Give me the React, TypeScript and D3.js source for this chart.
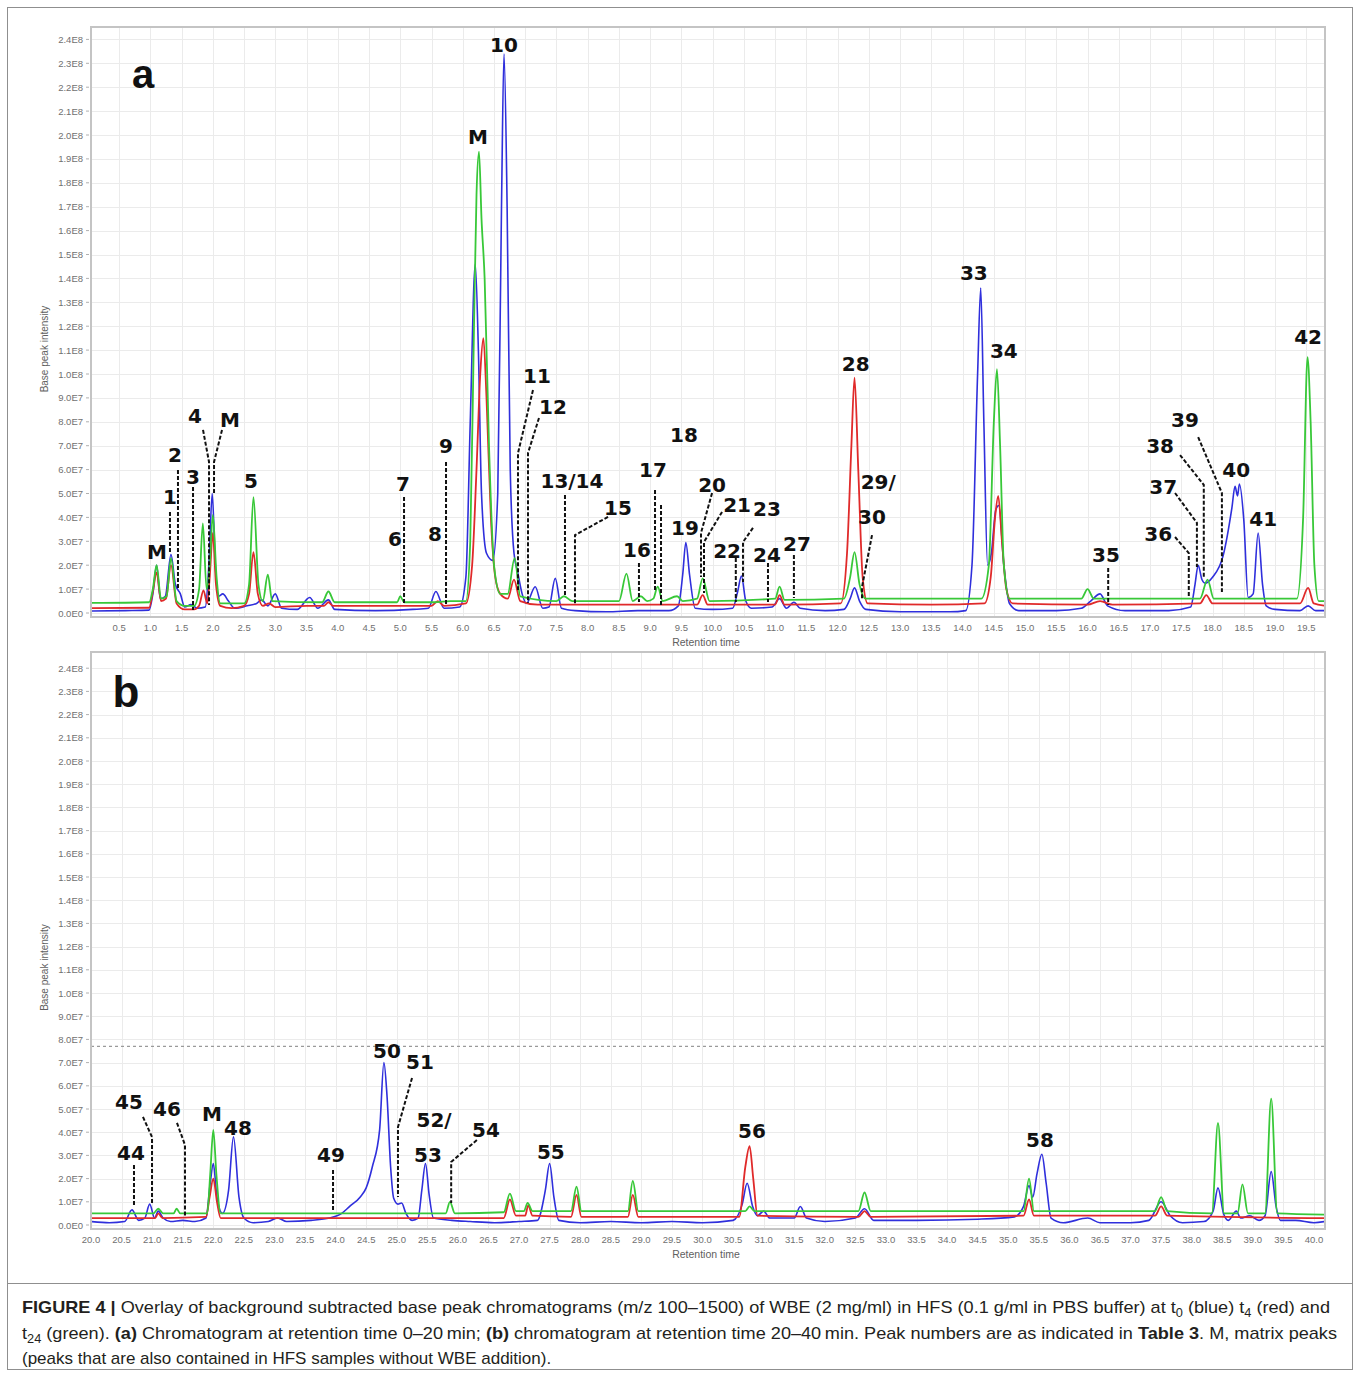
import React, { useEffect, useRef } from 'react';
import * as d3 from 'd3';

type Pt = [number, number];
type Note = { text: string; at: Pt; lead?: Pt[] };

// intensities are in units of 1E7, times in minutes

// ---- panel a (0-20 min) ----
const blueA: Pt[] = [
  [0.05, 0.08], [0.6, 0.1], [0.98, 0.12], [1.04, 0.8], [1.1, 2.0], [1.16, 0.6], [1.24, 0.7], [1.33, 2.45],
  [1.4, 1.2], [1.48, 0.8], [1.55, 0.25], [1.65, 0.35], [1.75, 0.2], [1.88, 0.25], [1.94, 2.2], [1.99, 5.0],
  [2.04, 2.0], [2.09, 0.7], [2.16, 0.8], [2.25, 0.5], [2.35, 0.2], [2.55, 0.3], [2.7, 0.4], [2.78, 0.55],
  [2.88, 0.3], [3.0, 0.8], [3.1, 0.2], [3.35, 0.15], [3.55, 0.65], [3.68, 0.2], [3.85, 0.55], [3.95, 0.15],
  [4.6, 0.1], [5.2, 0.15], [5.45, 0.2], [5.57, 0.9], [5.7, 0.2], [5.95, 0.25], [6.05, 1.5], [6.12, 8],
  [6.2, 14.6], [6.25, 11], [6.3, 5], [6.38, 2.5], [6.48, 2.2], [6.56, 5], [6.62, 17], [6.66, 23.4],
  [6.71, 17], [6.76, 6], [6.82, 2.5], [6.88, 1.7], [6.95, 0.8], [7.02, 0.4], [7.16, 1.1], [7.28, 0.2],
  [7.38, 0.25], [7.48, 1.45], [7.58, 0.2], [7.8, 0.1], [8.3, 0.05], [8.8, 0.1], [9.3, 0.1], [9.45, 0.3],
  [9.52, 1.6], [9.57, 2.95], [9.63, 1.6], [9.72, 0.2], [10.0, 0.15], [10.32, 0.2], [10.4, 0.9], [10.46, 1.55],
  [10.53, 0.5], [10.62, 0.2], [10.95, 0.25], [11.07, 0.6], [11.18, 0.2], [11.3, 0.45], [11.4, 0.2], [11.8, 0.1],
  [12.1, 0.15], [12.2, 0.6], [12.27, 1.05], [12.35, 0.5], [12.45, 0.15], [13.0, 0.05], [13.8, 0.05], [14.05, 0.1],
  [14.15, 2], [14.24, 10], [14.29, 13.6], [14.34, 8], [14.4, 2], [14.46, 2.5], [14.53, 4.3], [14.58, 4.5],
  [14.66, 2], [14.75, 0.4], [14.9, 0.1], [15.5, 0.1], [15.9, 0.2], [16.05, 0.5], [16.2, 0.8], [16.32, 0.3],
  [16.6, 0.1], [17.3, 0.1], [17.65, 0.25], [17.72, 1.2], [17.77, 2.0], [17.83, 1.4], [17.88, 1.25], [18.0, 1.5],
  [18.17, 2.4], [18.31, 4.4], [18.36, 5.3], [18.4, 4.9], [18.43, 5.4], [18.5, 3.9], [18.57, 0.65], [18.65, 0.8],
  [18.73, 3.35], [18.8, 1.2], [18.86, 0.3], [19.0, 0.15], [19.4, 0.1], [19.53, 0.3], [19.65, 0.1], [19.8, 0.1],
];

const redA: Pt[] = [
  [0.05, 0.2], [0.98, 0.22], [1.04, 0.9], [1.1, 1.7], [1.17, 0.5], [1.25, 0.6], [1.33, 2.0], [1.42, 0.4],
  [1.55, 0.15], [1.7, 0.15], [1.78, 0.3], [1.85, 0.95], [1.91, 0.4], [1.95, 1.5], [2.0, 3.35], [2.05, 1.2],
  [2.12, 0.3], [2.3, 0.2], [2.5, 0.3], [2.58, 0.8], [2.65, 2.55], [2.72, 0.8], [2.8, 0.3], [2.9, 0.4],
  [3.0, 0.25], [3.5, 0.3], [3.78, 0.3], [3.85, 0.45], [3.92, 0.3], [5.0, 0.3], [5.5, 0.3], [5.6, 0.5], [5.7, 0.3],
  [6.05, 0.4], [6.15, 2], [6.22, 6], [6.28, 10], [6.33, 11.5], [6.38, 9], [6.45, 4], [6.52, 1.5],
  [6.6, 0.8], [6.72, 0.6], [6.82, 1.4], [6.92, 0.5], [7.2, 0.35], [8.0, 0.35], [9.0, 0.35], [9.75, 0.35],
  [9.84, 0.75], [9.92, 0.35], [10.5, 0.35], [11.0, 0.35], [11.07, 0.75], [11.15, 0.35], [12.05, 0.4], [12.15, 2.5],
  [12.22, 7], [12.27, 9.85], [12.33, 6], [12.4, 1.5], [12.48, 0.4], [13.5, 0.35], [14.35, 0.4], [14.45, 1.5],
  [14.52, 4], [14.57, 4.9], [14.63, 3], [14.7, 1], [14.8, 0.4], [16.0, 0.35], [16.2, 0.5], [16.4, 0.35],
  [17.8, 0.4], [17.9, 0.75], [18.0, 0.4], [19.4, 0.4], [19.53, 1.05], [19.62, 0.4], [19.8, 0.3],
];

const greenA: Pt[] = [
  [0.05, 0.42], [0.98, 0.45], [1.04, 1.0], [1.1, 2.0], [1.17, 0.6], [1.26, 0.7], [1.33, 2.3], [1.42, 0.5],
  [1.55, 0.3], [1.7, 0.3], [1.78, 1.0], [1.84, 3.75], [1.9, 1.0], [1.95, 2.0], [2.0, 4.1], [2.06, 1.5],
  [2.12, 0.4], [2.5, 0.4], [2.58, 1.2], [2.65, 4.85], [2.73, 1.2], [2.8, 0.5], [2.88, 1.6], [2.95, 0.5],
  [3.75, 0.45], [3.85, 0.9], [3.95, 0.45], [4.95, 0.45], [5.0, 0.7], [5.06, 0.45], [5.55, 0.45], [5.8, 0.5],
  [6.05, 0.5], [6.12, 3], [6.18, 12], [6.22, 17.5], [6.26, 19.3], [6.3, 16.5], [6.35, 14], [6.42, 7],
  [6.5, 2], [6.6, 0.8], [6.72, 0.8], [6.83, 2.3], [6.92, 0.7], [7.5, 0.5], [7.62, 0.7], [7.75, 0.5],
  [8.5, 0.5], [8.62, 1.65], [8.72, 0.5], [8.85, 0.7], [8.95, 0.5], [9.05, 0.6], [9.12, 1.1], [9.2, 0.5],
  [9.43, 0.7], [9.52, 0.5], [9.75, 0.6], [9.84, 1.45], [9.95, 0.5], [11.0, 0.6], [11.07, 1.1], [11.15, 0.55],
  [12.1, 0.6], [12.2, 1.5], [12.27, 2.55], [12.35, 1.2], [12.45, 0.6], [14.3, 0.6], [14.42, 2], [14.5, 8],
  [14.55, 10.2], [14.6, 7], [14.66, 2], [14.75, 0.6], [15.9, 0.6], [16.0, 1.0], [16.1, 0.6], [17.8, 0.6],
  [17.92, 1.4], [18.02, 0.6], [19.35, 0.6], [19.45, 4], [19.52, 10.7], [19.57, 8], [19.63, 2], [19.7, 0.5],
  [19.8, 0.5],
];

// ---- panel b (20-40 min) ----
const blueB: Pt[] = [
  [20.0, 0.15], [20.3, 0.1], [20.55, 0.15], [20.67, 0.65], [20.78, 0.2], [20.88, 0.3], [20.96, 0.9], [21.04, 0.3],
  [21.1, 0.6], [21.18, 0.3], [21.3, 0.15], [21.5, 0.2], [21.7, 0.15], [21.88, 0.3], [21.95, 1.8], [22.0, 2.65],
  [22.06, 1.2], [22.15, 0.5], [22.25, 1.5], [22.33, 3.8], [22.42, 1.2], [22.5, 0.3], [22.65, 0.1], [22.9, 0.15],
  [23.05, 0.3], [23.2, 0.15], [23.6, 0.2], [23.9, 0.3], [24.1, 0.5], [24.23, 0.8], [24.4, 1.2], [24.5, 1.6],
  [24.6, 2.5], [24.72, 4.1], [24.79, 7.0], [24.84, 5.6], [24.9, 2.5], [24.95, 1.15], [25.02, 0.9], [25.08, 0.95],
  [25.15, 0.5], [25.25, 0.2], [25.35, 0.3], [25.41, 1.5], [25.47, 2.65], [25.53, 1.3], [25.6, 0.3], [25.9, 0.2],
  [26.2, 0.15], [26.6, 0.1], [27.0, 0.15], [27.3, 0.2], [27.43, 1.5], [27.5, 2.65], [27.57, 1.2], [27.65, 0.2],
  [28.0, 0.1], [28.5, 0.15], [29.0, 0.1], [29.5, 0.15], [30.0, 0.1], [30.5, 0.2], [30.65, 0.9], [30.73, 1.8],
  [30.82, 0.8], [30.9, 0.4], [31.0, 0.6], [31.1, 0.3], [31.5, 0.3], [31.6, 0.8], [31.7, 0.3], [32.0, 0.15],
  [32.5, 0.3], [32.65, 0.7], [32.8, 0.2], [33.5, 0.2], [34.5, 0.25], [35.1, 0.35], [35.25, 0.8], [35.34, 1.7],
  [35.4, 1.2], [35.47, 2.2], [35.55, 3.05], [35.62, 1.8], [35.7, 0.3], [35.9, 0.1], [36.3, 0.3], [36.5, 0.1],
  [37.0, 0.1], [37.3, 0.2], [37.5, 1.0], [37.65, 0.4], [37.85, 0.1], [38.2, 0.15], [38.35, 0.6], [38.43, 1.6],
  [38.52, 0.5], [38.6, 0.2], [38.73, 0.6], [38.8, 0.3], [38.95, 0.4], [39.1, 0.2], [39.2, 0.4], [39.3, 2.3],
  [39.38, 0.8], [39.45, 0.2], [39.7, 0.2], [40.0, 0.1], [40.18, 0.15],
];

const redB: Pt[] = [
  [20.0, 0.3], [21.05, 0.3], [21.1, 0.5], [21.17, 0.3], [21.88, 0.35], [21.94, 1.2], [22.0, 2.0], [22.06, 1.0],
  [22.12, 0.3], [24.5, 0.3], [25.0, 0.3], [26.75, 0.3], [26.85, 1.1], [26.95, 0.4], [27.1, 0.4], [27.15, 0.85],
  [27.22, 0.4], [27.85, 0.35], [27.94, 1.3], [28.02, 0.35], [28.78, 0.35], [28.86, 1.3], [28.95, 0.35], [30.6, 0.35],
  [30.7, 2.5], [30.77, 3.4], [30.83, 2.0], [30.9, 0.4], [32.55, 0.35], [32.65, 0.6], [32.75, 0.35], [35.25, 0.4],
  [35.34, 1.1], [35.42, 0.4], [37.4, 0.4], [37.5, 0.8], [37.6, 0.4], [40.18, 0.3],
];

const greenB: Pt[] = [
  [20.0, 0.5], [21.02, 0.5], [21.1, 0.7], [21.18, 0.5], [21.35, 0.5], [21.4, 0.7], [21.46, 0.5], [21.9, 0.5],
  [21.95, 2.2], [22.0, 4.1], [22.05, 2.2], [22.12, 0.5], [25.8, 0.5], [25.87, 1.0], [25.95, 0.5], [26.75, 0.55],
  [26.85, 1.35], [26.95, 0.6], [27.08, 0.6], [27.14, 0.95], [27.22, 0.6], [27.85, 0.6], [27.94, 1.65], [28.02, 0.6],
  [28.78, 0.6], [28.86, 1.9], [28.95, 0.6], [30.7, 0.6], [30.77, 0.8], [30.85, 0.6], [32.55, 0.6], [32.65, 1.4],
  [32.75, 0.6], [35.25, 0.6], [35.34, 2.0], [35.42, 0.6], [37.4, 0.6], [37.5, 1.2], [37.6, 0.6], [38.33, 0.5],
  [38.43, 4.4], [38.53, 0.5], [38.75, 0.5], [38.83, 1.75], [38.92, 0.5], [39.2, 0.5], [39.3, 5.45], [39.4, 0.5],
  [40.18, 0.45],
];

const yTickLabels = [
  '0.0E0', '1.0E7', '2.0E7', '3.0E7', '4.0E7', '5.0E7', '6.0E7', '7.0E7', '8.0E7', '9.0E7',
  '1.0E8', '1.1E8', '1.2E8', '1.3E8', '1.4E8', '1.5E8', '1.6E8', '1.7E8', '1.8E8', '1.9E8',
  '2.0E8', '2.1E8', '2.2E8', '2.3E8', '2.4E8',
];
const xTicksA = [0.5, 1.0, 1.5, 2.0, 2.5, 3.0, 3.5, 4.0, 4.5, 5.0, 5.5, 6.0, 6.5, 7.0, 7.5, 8.0, 8.5, 9.0, 9.5, 10.0,
  10.5, 11.0, 11.5, 12.0, 12.5, 13.0, 13.5, 14.0, 14.5, 15.0, 15.5, 16.0, 16.5, 17.0, 17.5, 18.0, 18.5, 19.0, 19.5];
const xTicksB = [20.0, 20.5, 21.0, 21.5, 22.0, 22.5, 23.0, 23.5, 24.0, 24.5, 25.0, 25.5, 26.0, 26.5, 27.0, 27.5, 28.0,
  28.5, 29.0, 29.5, 30.0, 30.5, 31.0, 31.5, 32.0, 32.5, 33.0, 33.5, 34.0, 34.5, 35.0, 35.5, 36.0, 36.5, 37.0, 37.5,
  38.0, 38.5, 39.0, 39.5, 40.0];

// peak labels: text centre and dashed leader, in data units
const notesA: Note[] = [
  { text: 'M', at: [1.106, 2.55] },
  { text: '1', at: [1.314, 4.85], lead: [[1.314, 4.23], [1.314, 2.51]] },
  { text: '2', at: [1.394, 6.61], lead: [[1.442, 5.98], [1.442, 0.96]] },
  { text: '3', at: [1.683, 5.69], lead: [[1.683, 5.27], [1.683, 0.13]] },
  { text: '4', at: [1.715, 8.24], lead: [[1.843, 7.66], [1.939, 6.32], [1.939, 0.33]] },
  { text: 'M', at: [2.275, 8.08], lead: [[2.147, 7.66], [2.019, 6.32], [2.019, 4.94]] },
  { text: '5', at: [2.611, 5.52] },
  { text: '6', at: [4.916, 3.10] },
  { text: '7', at: [5.044, 5.40], lead: [[5.06, 4.85], [5.06, 0.33]] },
  { text: '8', at: [5.556, 3.31] },
  { text: '9', at: [5.732, 6.99], lead: [[5.732, 6.32], [5.732, 0.33]] },
  { text: '10', at: [6.66, 23.77] },
  { text: 'M', at: [6.244, 19.92] },
  { text: '11', at: [7.188, 9.92], lead: [[7.124, 9.33], [6.884, 6.69], [6.884, 0.96]] },
  { text: '12', at: [7.444, 8.62], lead: [[7.22, 8.16], [7.044, 6.69], [7.044, 0.42]] },
  { text: '13/14', at: [7.748, 5.52], lead: [[7.636, 4.94], [7.636, 0.75]] },
  { text: '15', at: [8.485, 4.39], lead: [[8.325, 4.02], [7.796, 3.26], [7.796, 0.33]] },
  { text: '16', at: [8.789, 2.64], lead: [[8.82, 2.09], [8.82, 0.46]] },
  { text: '17', at: [9.045, 5.98], lead: [[9.077, 5.15], [9.077, 0.96]] },
  { text: '18', at: [9.541, 7.45], lead: [[9.173, 4.52], [9.173, 0.33]] },
  { text: '19', at: [9.557, 3.56] },
  { text: '20', at: [9.99, 5.36], lead: [[9.99, 5.02], [9.813, 3.35], [9.813, 1.51]] },
  { text: '21', at: [10.39, 4.52], lead: [[10.15, 4.23], [9.861, 2.97], [9.861, 0.84]] },
  { text: '22', at: [10.23, 2.59], lead: [[10.37, 2.30], [10.37, 0.46]] },
  { text: '23', at: [10.87, 4.35], lead: [[10.645, 3.56], [10.485, 2.97], [10.485, 1.30]] },
  { text: '24', at: [10.87, 2.43], lead: [[10.885, 2.09], [10.885, 0.46]] },
  { text: '27', at: [11.35, 2.89], lead: [[11.30, 2.43], [11.30, 0.63]] },
  { text: '28', at: [12.29, 10.42] },
  { text: '29/', at: [12.65, 5.48] },
  { text: '30', at: [12.55, 4.02], lead: [[12.55, 3.26], [12.39, 1.09], [12.39, 0.54]] },
  { text: '33', at: [14.18, 14.23] },
  { text: '34', at: [14.66, 10.96] },
  { text: '35', at: [16.295, 2.43], lead: [[16.33, 1.88], [16.33, 0.33]] },
  { text: '36', at: [17.13, 3.31], lead: [[17.40, 3.18], [17.62, 2.51], [17.62, 0.67]] },
  { text: '37', at: [17.21, 5.27], lead: [[17.40, 5.02], [17.75, 3.77], [17.75, 1.92]] },
  { text: '38', at: [17.16, 6.99], lead: [[17.48, 6.61], [17.86, 5.36], [17.86, 1.46]] },
  { text: '39', at: [17.56, 8.08], lead: [[17.77, 7.36], [18.15, 5.02], [18.15, 0.88]] },
  { text: '40', at: [18.38, 5.98] },
  { text: '41', at: [18.81, 3.93] },
  { text: '42', at: [19.53, 11.55] },
];

const notesB: Note[] = [
  { text: '44', at: [20.654, 3.10], lead: [[20.703, 2.59], [20.703, 0.78]] },
  { text: '45', at: [20.621, 5.30], lead: [[20.85, 4.66], [20.998, 3.79], [20.998, 0.95]] },
  { text: '46', at: [21.243, 5.00], lead: [[21.406, 4.40], [21.537, 3.45], [21.537, 0.34]] },
  { text: 'M', at: [21.979, 4.78] },
  { text: '48', at: [22.404, 4.18] },
  { text: '49', at: [23.925, 3.02], lead: [[23.958, 2.37], [23.958, 0.56]] },
  { text: '50', at: [24.84, 7.50] },
  { text: '51', at: [25.38, 7.03], lead: [[25.25, 6.34], [25.02, 4.22], [25.02, 1.21]] },
  { text: '52/', at: [25.61, 4.53] },
  { text: '53', at: [25.51, 3.02] },
  { text: '54', at: [26.46, 4.09], lead: [[26.31, 3.66], [25.89, 2.72], [25.89, 0.95]] },
  { text: '55', at: [27.52, 3.15] },
  { text: '56', at: [30.81, 4.05] },
  { text: '58', at: [35.52, 3.66] },
];
const thresholdB = 7.7;

type Seg = { t: string; bold?: boolean; sub?: boolean };
const captionLines: Seg[][] = [
  [
    { t: 'FIGURE 4 | ', bold: true },
    { t: 'Overlay of background subtracted base peak chromatograms (m/z 100–1500) of WBE (2 mg/ml) in HFS (0.1 g/ml in PBS buffer) at t' },
    { t: '0', sub: true }, { t: ' (blue) t' }, { t: '4', sub: true }, { t: ' (red) and' },
  ],
  [
    { t: 't' }, { t: '24', sub: true }, { t: ' (green). ' }, { t: '(a)', bold: true },
    { t: ' Chromatogram at retention time 0–20\u2009min; ' }, { t: '(b)', bold: true },
    { t: ' chromatogram at retention time 20–40\u2009min. Peak numbers are as indicated in ' },
    { t: 'Table 3', bold: true }, { t: '. M, matrix peaks' },
  ],
  [{ t: '(peaks that are also contained in HFS samples without WBE addition).' }],
];

const BLUE = '#2f2fdc';
const RED = '#e02a2a';
const GREEN = '#38c838';
const FONT = '"Liberation Sans", Arial, sans-serif';
const LABEL_FONT = '"DejaVu Sans", Verdana, sans-serif';

interface PanelCfg {
  id: string;
  letter: string;
  letterPos: [number, number];
  letterSize: number;
  box: { x0: number; x1: number; y0: number; y1: number };
  xDomain: [number, number];
  yRange: [number, number];
  xTicks: number[];
  blue: Pt[]; red: Pt[]; green: Pt[];
  notes: Note[];
  threshold?: number;
}

const panels: PanelCfg[] = [
  {
    id: 'a', letter: 'a', letterPos: [143, 88], letterSize: 40,
    box: { x0: 91, x1: 1325, y0: 27, y1: 617 },
    xDomain: [0.05, 19.8], yRange: [613, 39.4], xTicks: xTicksA,
    blue: blueA, red: redA, green: greenA, notes: notesA,
  },
  {
    id: 'b', letter: 'b', letterPos: [126, 707], letterSize: 44,
    box: { x0: 91, x1: 1325, y0: 652, y1: 1229 },
    xDomain: [20, 40.18], yRange: [1225, 668.2], xTicks: xTicksB,
    blue: blueB, red: redB, green: greenB, notes: notesB, threshold: thresholdB,
  },
];

const App: React.FC = () => {
  const svgRef = useRef<SVGSVGElement>(null);

  useEffect(() => {
    if (!svgRef.current) return;
    const svg = d3.select(svgRef.current);
    svg.selectAll('*').remove();
    const defs = svg.append('defs');

    svg.append('rect').attr('width', 1360).attr('height', 1376).attr('fill', '#fff');
    // figure frame + caption divider
    svg.append('rect').attr('x', 7.5).attr('y', 7.5).attr('width', 1345).attr('height', 1362)
      .attr('fill', 'none').attr('stroke', '#8f8f8f').attr('stroke-width', 1);
    svg.append('line').attr('x1', 7.5).attr('x2', 1352.5).attr('y1', 1283.5).attr('y2', 1283.5)
      .attr('stroke', '#8f8f8f');

    panels.forEach(p => {
      const { box } = p;
      const x = d3.scaleLinear().domain(p.xDomain).range([box.x0, box.x1]);
      const y = d3.scaleLinear().domain([0, 24]).range(p.yRange);
      const g = svg.append('g');

      // --- GRID ---
      g.selectAll('.hg').data(yTickLabels).enter().append('line')
        .attr('x1', box.x0).attr('x2', box.x1)
        .attr('y1', (_, i) => Math.round(y(i)) + 0.5).attr('y2', (_, i) => Math.round(y(i)) + 0.5)
        .attr('stroke', '#ebebeb');
      g.selectAll('.vg').data(p.xTicks).enter().append('line')
        .attr('x1', d => Math.round(x(d)) + 0.5).attr('x2', d => Math.round(x(d)) + 0.5)
        .attr('y1', box.y0).attr('y2', box.y1)
        .attr('stroke', '#ebebeb');

      // frame
      g.append('rect').attr('x', box.x0).attr('y', box.y0)
        .attr('width', box.x1 - box.x0).attr('height', box.y1 - box.y0)
        .attr('fill', 'none').attr('stroke', '#c4c4c4').attr('stroke-width', 2);

      // --- AXES ---
      g.selectAll('.yl').data(yTickLabels).enter().append('text')
        .attr('x', box.x0 - 8).attr('y', (_, i) => y(i))
        .attr('text-anchor', 'end').attr('dominant-baseline', 'central')
        .attr('font-family', FONT).attr('font-size', 9.5).attr('fill', '#707070')
        .text(d => d);
      g.selectAll('.yt').data(yTickLabels).enter().append('line')
        .attr('x1', box.x0 - 5).attr('x2', box.x0 - 2)
        .attr('y1', (_, i) => y(i)).attr('y2', (_, i) => y(i))
        .attr('stroke', '#b0b0b0');
      g.selectAll('.xl').data(p.xTicks).enter().append('text')
        .attr('x', d => x(d)).attr('y', box.y1 + 10)
        .attr('text-anchor', 'middle').attr('dominant-baseline', 'central')
        .attr('font-family', FONT).attr('font-size', 9.5).attr('fill', '#707070')
        .text(d => d.toFixed(1));
      g.append('text')
        .attr('x', 706).attr('y', box.y1 + 25)
        .attr('text-anchor', 'middle').attr('dominant-baseline', 'central')
        .attr('font-family', FONT).attr('font-size', 10.5).attr('fill', '#606060')
        .text('Retention time');
      const yMid = (box.y0 + box.y1) / 2 + 27;
      g.append('text')
        .attr('transform', `translate(44,${yMid}) rotate(-90)`)
        .attr('text-anchor', 'middle').attr('dominant-baseline', 'central')
        .attr('font-family', FONT).attr('font-size', 10).attr('fill', '#606060')
        .text('Base peak intensity');

      // --- TRACES ---
      defs.append('clipPath').attr('id', `clip-${p.id}`)
        .append('rect').attr('x', box.x0 + 1).attr('y', box.y0 + 1)
        .attr('width', box.x1 - box.x0 - 2).attr('height', box.y1 - box.y0 - 2);
      const plot = g.append('g').attr('clip-path', `url(#clip-${p.id})`);

      if (p.threshold !== undefined) {
        plot.append('line')
          .attr('x1', box.x0).attr('x2', box.x1)
          .attr('y1', y(p.threshold)).attr('y2', y(p.threshold))
          .attr('stroke', '#9a9a9a').attr('stroke-width', 1.2).attr('stroke-dasharray', '3,3');
      }

      const line = d3.line<Pt>().curve(d3.curveMonotoneX).x(d => x(d[0])).y(d => y(d[1]));
      const traces: [Pt[], string, number][] = [[p.blue, BLUE, 1.6], [p.red, RED, 1.8], [p.green, GREEN, 1.8]];
      traces.forEach(([data, col, w]) => {
        plot.append('path').datum(data)
          .attr('fill', 'none').attr('stroke', col).attr('stroke-width', w)
          .attr('stroke-linejoin', 'round').attr('d', line);
      });

      // --- PEAK LABELS ---
      const lead = d3.line<Pt>().x(d => x(d[0])).y(d => y(d[1]));
      p.notes.filter(n => n.lead).forEach(n => {
        g.append('path').datum(n.lead as Pt[])
          .attr('fill', 'none').attr('stroke', '#111').attr('stroke-width', 2)
          .attr('stroke-dasharray', '4,2').attr('d', lead);
      });
      g.selectAll('.pk').data(p.notes).enter().append('text')
        .attr('x', d => x(d.at[0])).attr('y', d => y(d.at[1]))
        .attr('text-anchor', 'middle').attr('dominant-baseline', 'central')
        .attr('font-family', LABEL_FONT).attr('font-weight', 'bold').attr('font-size', 20)
        .attr('fill', '#111')
        .text(d => d.text);

      g.append('text')
        .attr('x', p.letterPos[0]).attr('y', p.letterPos[1])
        .attr('text-anchor', 'middle')
        .attr('font-family', FONT).attr('font-weight', 'bold').attr('font-size', p.letterSize)
        .attr('fill', '#111')
        .text(p.letter);
    });

    // --- CAPTION ---
    const capY = [1313, 1339, 1364];
    const capW = [1308, 1315, 0];
    captionLines.forEach((segs, li) => {
      const t = svg.append('text')
        .attr('x', 22).attr('y', capY[li])
        .attr('font-family', FONT).attr('font-size', 17).attr('fill', '#231f20');
      if (capW[li]) t.attr('textLength', capW[li]).attr('lengthAdjust', 'spacingAndGlyphs');
      let shifted = false;
      segs.forEach(s => {
        const ts = t.append('tspan').text(s.t);
        if (s.bold) ts.attr('font-weight', 'bold');
        if (s.sub) { ts.attr('font-size', 12).attr('dy', 4); shifted = true; }
        else if (shifted) { ts.attr('dy', -4); shifted = false; }
      });
    });
  }, []);

  return (
    <svg ref={svgRef} width={1360} height={1376}
      style={{ position: 'absolute', left: 0, top: 0, display: 'block' }} />
  );
};

export default App;
